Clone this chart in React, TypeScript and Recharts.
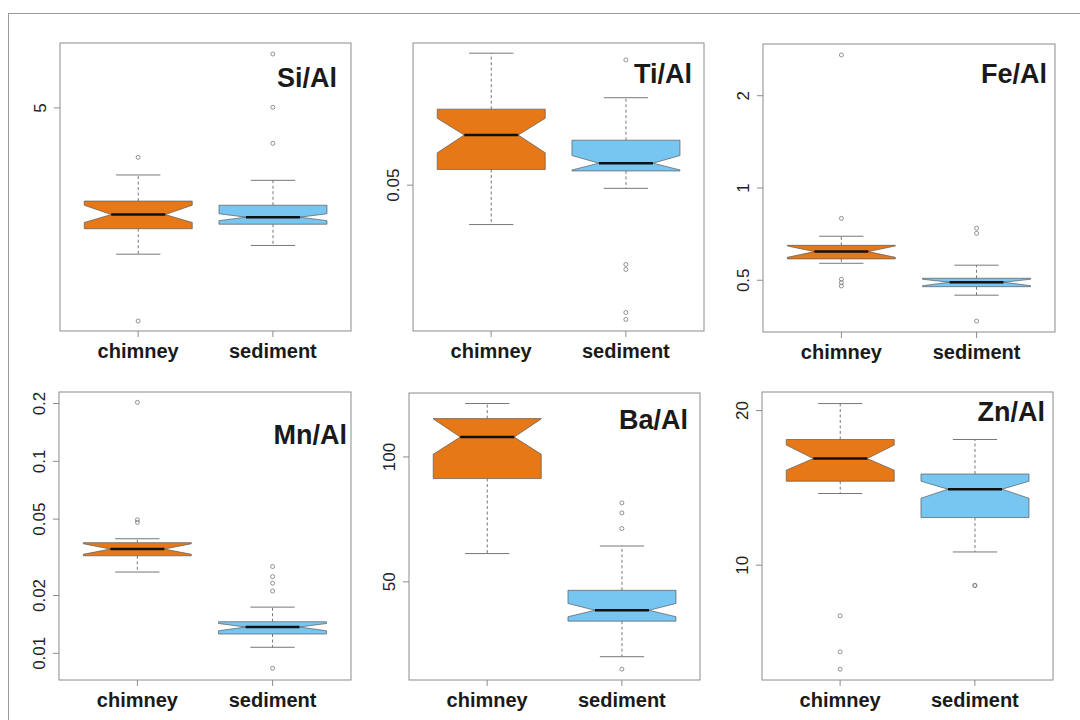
import React from 'react';
import { ComposedChart, Bar, Scatter, XAxis, YAxis } from 'recharts';

const groups = ['chimney', 'sediment'];
const fills = ['#E77817', '#77C5F1'];
const AXIS = '#8c8c8c';
const FONT = '"Liberation Sans", Arial, Helvetica, sans-serif';

// each box: [lower whisker, Q1, notch low, median, notch high, Q3, upper whisker]
const siBoxes = [
  [3.09, 3.36, 3.43, 3.52, 3.63, 3.68, 4.01],
  [3.18, 3.41, 3.45, 3.49, 3.53, 3.63, 3.94],
];
const siOutliers = [[4.25, 2.48], [5.97, 5.01, 4.45]];

const tiBoxes = [
  [0.043, 0.0531, 0.0566, 0.0606, 0.0646, 0.0669, 0.0829],
  [0.0494, 0.0528, 0.053, 0.0544, 0.056, 0.0594, 0.0699],
];
const tiOutliers = [[], [0.0808, 0.0369, 0.0362, 0.0307, 0.0299]];

const feBoxes = [
  [0.568, 0.587, 0.594, 0.62, 0.647, 0.65, 0.696],
  [0.447, 0.4765, 0.48, 0.4926, 0.5038, 0.5076, 0.56],
];
const feOutliers = [[2.716, 0.796, 0.504, 0.491, 0.479], [0.739, 0.7115, 0.368]];

const mnBoxes = [
  [0.0265, 0.0322, 0.0328, 0.0349, 0.0372, 0.0377, 0.0395],
  [0.01075, 0.0126, 0.0131, 0.0137, 0.0143, 0.0146, 0.0174],
];
const mnOutliers = [[0.2028, 0.0496, 0.0481], [0.0283, 0.0251, 0.0232, 0.0211, 0.00835]];

const baBoxes = [
  [58.5, 88.7, 101.5, 111.7, 123.5, 123.7, 134.5],
  [33.0, 40.2, 41.2, 42.7, 44.35, 47.7, 61.0],
];
const baOutliers = [[], [77.5, 73.3, 67.2, 30.8]];

const znBoxes = [
  [13.79, 14.57, 15.31, 16.13, 17.14, 17.57, 20.64],
  [10.61, 12.38, 13.5, 14.06, 14.57, 15.05, 17.57],
];
const znOutliers = [[7.97, 6.78, 6.27], [9.14, 9.12]];

const panels = [
  { title: 'Si/Al', boxes: siBoxes, outliers: siOutliers, domain: [2.4, 6.19], ticks: [5], plot: { x: 60, y: 43, w: 291, h: 288 }, titlePos: [14, 44] },
  { title: 'Ti/Al', boxes: tiBoxes, outliers: tiOutliers, domain: [0.0286, 0.0862], ticks: [0.05], plot: { x: 413, y: 43, w: 291, h: 288 }, titlePos: [12, 40] },
  { title: 'Fe/Al', boxes: feBoxes, outliers: feOutliers, domain: [0.339, 2.949], ticks: [0.5, 1, 2], plot: { x: 763, y: 44, w: 292, h: 288 }, titlePos: [8, 39] },
  { title: 'Mn/Al', boxes: mnBoxes, outliers: mnOutliers, domain: [0.00726, 0.2296], ticks: [0.01, 0.02, 0.05, 0.1, 0.2], plot: { x: 59, y: 392, w: 292, h: 288 }, titlePos: [4, 52] },
  { title: 'Ba/Al', boxes: baBoxes, outliers: baOutliers, domain: [29.0, 142.6], ticks: [50, 100], plot: { x: 409, y: 393, w: 291, h: 287 }, titlePos: [12, 36] },
  { title: 'Zn/Al', boxes: znBoxes, outliers: znOutliers, domain: [5.975, 21.74], ticks: [10, 20], plot: { x: 762, y: 392, w: 291, h: 288 }, titlePos: [8, 29] },
];

function BoxShape(props: any) {
  const { x, y, width, height, payload } = props;
  const [lo, q1, nlo, med, nhi, q3, hi] = payload.stats;
  // bar spans lower..upper whisker on the log axis; place the other stats inside it
  const py = (v: number) => y + (height * (Math.log(hi) - Math.log(v))) / (Math.log(hi) - Math.log(lo));
  const l = x;
  const r = x + width;
  const cx = x + width / 2;
  const ins = width / 4;
  const cap = width * 0.205;
  const pts = [
    [l, py(q3)], [r, py(q3)], [r, py(nhi)], [r - ins, py(med)], [r, py(nlo)], [r, py(q1)],
    [l, py(q1)], [l, py(nlo)], [l + ins, py(med)], [l, py(nhi)],
  ].map((p) => p.join(',')).join(' ');
  return (
    <g>
      <line x1={cx} x2={cx} y1={py(q3)} y2={py(hi)} stroke="#777" strokeDasharray="3 2.5" />
      <line x1={cx} x2={cx} y1={py(q1)} y2={py(lo)} stroke="#777" strokeDasharray="3 2.5" />
      <line x1={cx - cap} x2={cx + cap} y1={py(hi)} y2={py(hi)} stroke="#777" />
      <line x1={cx - cap} x2={cx + cap} y1={py(lo)} y2={py(lo)} stroke="#777" />
      <polygon points={pts} fill={payload.fill} stroke="#5a5a5a" strokeWidth={0.7} />
      <line x1={l + ins} x2={r - ins} y1={py(med)} y2={py(med)} stroke="#111" strokeWidth={2.5} />
    </g>
  );
}

function Dot(props: any) {
  const { cx, cy } = props;
  return <circle cx={cx} cy={cy} r={2} fill="none" stroke="#777" strokeWidth={0.8} />;
}

function YTick(props: any) {
  const { x, y, payload } = props;
  const bx = x - 6;
  return (
    <text x={bx} y={y} transform={`rotate(-90, ${bx}, ${y})`} textAnchor="middle" fontSize={17} fill="#222" fontFamily={FONT}>
      {String(payload.value)}
    </text>
  );
}

function XTick(props: any) {
  const { x, y, payload } = props;
  return (
    <text x={x} y={y + 19} textAnchor="middle" fontSize={20} fontWeight="bold" fill="#1a1a1a" fontFamily={FONT}>
      {payload.value}
    </text>
  );
}

function Panel({ p }: { p: any }) {
  const { x, y, w, h } = p.plot;
  const rows = groups.map((g, i) => ({
    group: g,
    whisker: [p.boxes[i][0], p.boxes[i][6]],
    stats: p.boxes[i],
    fill: fills[i],
  }));
  const pts = groups.flatMap((g, i) => p.outliers[i].map((v: number) => ({ group: g, value: v })));
  const pad = w * 0.037;
  return (
    <div style={{ position: 'absolute', left: x - 50, top: y - 10 }}>
      <ComposedChart
        width={w + 60}
        height={h + 50}
        data={rows}
        margin={{ top: 10, right: 10, left: 0, bottom: 0 }}
        barCategoryGap="10%"
      >
        <XAxis
          dataKey="group"
          type="category"
          allowDuplicatedCategory={false}
          padding={{ left: pad, right: pad }}
          height={40}
          axisLine={false}
          tickSize={6}
          tickLine={{ stroke: AXIS }}
          tick={(t: any) => <XTick {...t} />}
        />
        <YAxis
          type="number"
          scale="log"
          domain={p.domain}
          ticks={p.ticks}
          allowDataOverflow
          width={50}
          axisLine={false}
          tickSize={6}
          tickLine={{ stroke: AXIS }}
          tick={(t: any) => <YTick {...t} />}
        />
        <rect x={50} y={10} width={w} height={h} fill="none" stroke={AXIS} />
        <Bar dataKey="whisker" shape={(s: any) => <BoxShape {...s} />} isAnimationActive={false} />
        <Scatter data={pts} dataKey="value" shape={(s: any) => <Dot {...s} />} isAnimationActive={false} />
        <text
          x={50 + w - p.titlePos[0]}
          y={10 + p.titlePos[1]}
          textAnchor="end"
          fontSize={27}
          fontWeight="bold"
          fill="#1a1a1a"
          fontFamily={FONT}
        >
          {p.title}
        </text>
      </ComposedChart>
    </div>
  );
}

export default function App() {
  return (
    <div style={{ position: 'absolute', left: 0, top: 0, width: 1080, height: 720, background: '#fff', overflow: 'hidden' }}>
      <div
        style={{
          position: 'absolute',
          left: 8,
          top: 13,
          width: 1080,
          height: 720,
          borderTop: '1px solid #9a9a9a',
          borderLeft: '1px solid #9a9a9a',
        }}
      />
      {panels.map((p) => (
        <Panel key={p.title} p={p} />
      ))}
    </div>
  );
}
